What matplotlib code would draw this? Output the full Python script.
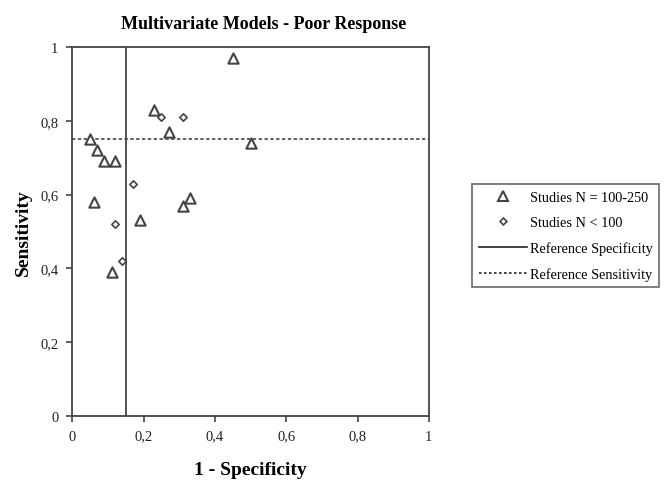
import matplotlib
matplotlib.use("Agg")
import matplotlib.pyplot as plt
from matplotlib.ticker import FuncFormatter
from matplotlib.lines import Line2D

# Studies with N = 100-250 (1 - specificity, sensitivity)
large_fpr = [0.45, 0.23, 0.27, 0.50, 0.05, 0.07, 0.09, 0.12, 0.06, 0.19, 0.31, 0.33, 0.11]
large_sens = [0.97, 0.83, 0.77, 0.74, 0.75, 0.72, 0.69, 0.69, 0.58, 0.53, 0.57, 0.59, 0.39]

# Studies with N < 100
small_fpr = [0.25, 0.31, 0.17, 0.12, 0.14]
small_sens = [0.81, 0.81, 0.63, 0.52, 0.42]

ref_specificity = 0.15   # drawn as 1 - specificity
ref_sensitivity = 0.75

ticks = [0, 0.2, 0.4, 0.6, 0.8, 1]

plt.rcParams["font.family"] = ["Liberation Serif", "DejaVu Serif"]
edge = "#444444"

fig = plt.figure(figsize=(6.67, 4.81), dpi=100)
ax = fig.add_axes([0.1084, 0.1337, 0.5346, 0.7659])

ax.axvline(ref_specificity, color=edge, lw=1.3)
ax.axhline(ref_sensitivity, color=edge, lw=1.2, ls=(0, (2, 1.5)))
ax.scatter(large_fpr, large_sens, marker="^", s=55, facecolors="white",
           edgecolors=edge, linewidths=1.5, zorder=3)
ax.scatter(small_fpr, small_sens, marker="D", s=14, facecolors="white",
           edgecolors=edge, linewidths=1.2, zorder=3)

ax.set_xlim(0, 1)
ax.set_ylim(0, 1)
ax.set_xticks(ticks)
ax.set_yticks(ticks)
fmt = FuncFormatter(lambda v, p: ("%g" % v).replace(".", ","))
ax.xaxis.set_major_formatter(fmt)
ax.yaxis.set_major_formatter(fmt)
ax.tick_params(direction="out", length=4, width=1.2, color=edge,
               labelsize=10.5, labelcolor="#222222", pad=6)
for sp in ax.spines.values():
    sp.set_color(edge)
    sp.set_linewidth(1.3)

ax.set_xlabel("1 - Specificity", fontsize=14, fontweight="bold", labelpad=13)
ax.set_ylabel("Sensitivity", fontsize=14, fontweight="bold", labelpad=6)
fig.text(0.395, 0.950, "Multivariate Models - Poor Response", ha="center",
         va="center", fontsize=13, fontweight="bold")

handles = [
    Line2D([], [], ls="none", marker="^", ms=7, mfc="white", mec=edge, mew=1.5),
    Line2D([], [], ls="none", marker="D", ms=3.5, mfc="white", mec=edge, mew=1.2),
    Line2D([], [], color="#222222", lw=1.2),
    Line2D([], [], color="#222222", lw=1.2, ls=(0, (1.5, 1.5))),
]
labels = ["Studies N = 100-250", "Studies N < 100",
          "Reference Specificity", "Reference Sensitivity"]
leg = fig.legend(handles, labels, loc="center left", bbox_to_anchor=(0.708, 0.508),
                 fontsize=10.3, frameon=True, fancybox=False, edgecolor=edge,
                 handlelength=3.4, handletextpad=0.2, borderpad=0.45,
                 labelspacing=0.85, borderaxespad=0)
leg.get_frame().set_linewidth(1.2)

fig.savefig("out.png", dpi=100)
